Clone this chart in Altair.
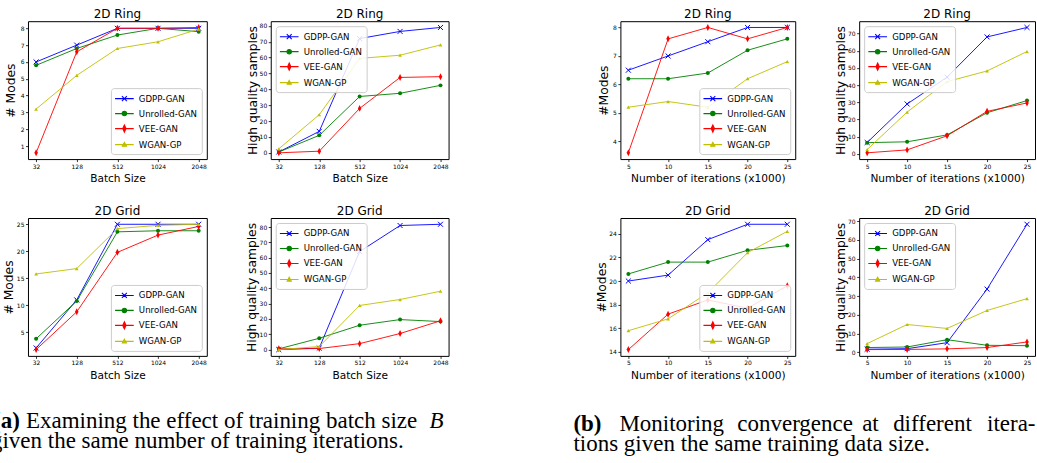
import altair as alt
import pandas as pd

SERIES = ["GDPP-GAN", "Unrolled-GAN", "VEE-GAN", "WGAN-GP"]
COLORS = ["#0000ff", "#008000", "#ff0000", "#bfbf00"]
BATCH_SIZES = ["32", "128", "512", "1024", "2048"]
ITERATIONS = [5, 10, 15, 20, 25]

# (a) batch size experiments
ring_modes_bs = {
    "GDPP-GAN": [6.0, 7.0, 8.0, 8.0, 8.0],
    "Unrolled-GAN": [5.8, 6.8, 7.6, 8.0, 7.8],
    "VEE-GAN": [0.6, 6.6, 8.0, 8.0, 8.05],
    "WGAN-GP": [3.2, 5.2, 6.8, 7.2, 7.95],
}
ring_hq_bs = {
    "GDPP-GAN": [0.5, 13.5, 72.0, 76.5, 79.0],
    "Unrolled-GAN": [0.5, 11.0, 35.5, 37.5, 42.5],
    "VEE-GAN": [0.0, 1.0, 28.0, 47.5, 48.0],
    "WGAN-GP": [2.5, 24.0, 59.5, 61.5, 68.0],
}
grid_modes_bs = {
    "GDPP-GAN": [2.1, 11.0, 25.0, 25.0, 25.0],
    "Unrolled-GAN": [3.8, 10.8, 23.6, 23.8, 23.8],
    "VEE-GAN": [1.8, 8.8, 19.8, 23.0, 24.6],
    "WGAN-GP": [15.8, 16.8, 24.2, 24.8, 25.0],
}
grid_hq_bs = {
    "GDPP-GAN": [0.0, 1.0, 64.0, 81.0, 81.8],
    "Unrolled-GAN": [0.5, 7.4, 15.9, 19.6, 18.3],
    "VEE-GAN": [0.5, 0.7, 3.9, 10.5, 18.8],
    "WGAN-GP": [0.0, 2.0, 28.8, 32.7, 38.1],
}
# (b) iteration experiments
ring_modes_it = {
    "GDPP-GAN": [6.5, 7.0, 7.5, 8.0, 8.0],
    "Unrolled-GAN": [6.2, 6.2, 6.4, 7.2, 7.6],
    "VEE-GAN": [3.6, 7.6, 8.0, 7.6, 8.0],
    "WGAN-GP": [5.2, 5.4, 5.2, 6.2, 6.8],
}
ring_hq_it = {
    "GDPP-GAN": [6.6, 29.0, 44.6, 68.0, 73.5],
    "Unrolled-GAN": [6.5, 7.0, 11.0, 23.9, 31.0],
    "VEE-GAN": [0.6, 2.3, 10.5, 24.7, 29.6],
    "WGAN-GP": [2.5, 24.3, 42.0, 48.2, 59.5],
}
grid_modes_it = {
    "GDPP-GAN": [20.0, 20.5, 23.5, 24.8, 24.8],
    "Unrolled-GAN": [20.6, 21.6, 21.6, 22.6, 23.0],
    "VEE-GAN": [14.2, 17.2, 18.4, 17.7, 19.6],
    "WGAN-GP": [15.8, 16.8, 19.0, 22.4, 24.2],
}
grid_hq_it = {
    "GDPP-GAN": [1.6, 1.9, 5.1, 33.7, 68.3],
    "Unrolled-GAN": [2.5, 2.8, 6.7, 3.7, 3.5],
    "VEE-GAN": [1.4, 1.5, 1.8, 2.5, 5.5],
    "WGAN-GP": [4.6, 14.8, 12.7, 22.3, 28.6],
}

TICKS_RING_MODES_BS = [1, 2, 3, 4, 5, 6, 7, 8]
TICKS_HQ_80 = [0, 10, 20, 30, 40, 50, 60, 70, 80]
TICKS_GRID_MODES_BS = [5, 10, 15, 20, 25]
TICKS_RING_MODES_IT = [4, 5, 6, 7, 8]
TICKS_HQ_70 = [0, 10, 20, 30, 40, 50, 60, 70]
TICKS_GRID_MODES_IT = [14, 16, 18, 20, 22, 24]

CAPTION_A = ["(a)", "Examining the effect of training batch size", "B",
             "given the same number of training iterations."]
CAPTION_B1 = ["(b)", "Monitoring", "convergence", "at", "different", "itera-"]
CAPTION_B2 = "tions given the same training data size."

FONT = "DejaVu Sans"
SERIF = "Liberation Serif"

# plot markers (paths in unit box)
MARKS = {
    "GDPP-GAN": dict(shape="M-1,-1L1,1M-1,1L1,-1", filled=False, strokeWidth=1, size=25),
    "Unrolled-GAN": dict(shape="circle", filled=True, size=16),
    "VEE-GAN": dict(shape="M0,-1L0.5,0L0,1L-0.5,0Z", filled=True, size=49),
    "WGAN-GP": dict(shape="triangle-up", filled=True, size=14),
}
LINE = "M-1.7,0L1.7,0"
LEGEND_PATHS = [
    LINE + "M-0.45,-0.45L0.45,0.45M-0.45,0.45L0.45,-0.45",
    LINE + "M0.4,0A0.4,0.4,0,1,1,-0.4,0A0.4,0.4,0,1,1,0.4,0Z",
    LINE + "M0,-0.65L0.3,0L0,0.65L-0.3,0Z",
    LINE + "M0,-0.4L0.38,0.3L-0.38,0.3Z",
]


def long_df(xs, data):
    rows = []
    for s in SERIES:
        for x, v in zip(xs, data[s]):
            rows.append({"x": x, "y": v, "series": s})
    return pd.DataFrame(rows)


def make_panel(kind, data, title, ytitle, yticks, orient, ytp, width):
    xs = BATCH_SIZES if kind == "bs" else ITERATIONS
    df = long_df(xs, data)
    vals = [v for s in SERIES for v in data[s]]
    lo, hi = min(vals), max(vals)
    m = 0.05 * (hi - lo)
    if kind == "bs":
        xenc = alt.X("x:O", sort=BATCH_SIZES,
                     scale=alt.Scale(type="point", padding=0.2),
                     axis=alt.Axis(title="Batch Size", labelAngle=0))
    else:
        xenc = alt.X("x:Q", scale=alt.Scale(domain=[4, 26], nice=False, zero=False),
                     axis=alt.Axis(title="Number of iterations (x1000)", values=ITERATIONS))
    yenc = alt.Y("y:Q", scale=alt.Scale(domain=[lo - m, hi + m], nice=False, zero=False),
                 axis=alt.Axis(title=ytitle, values=yticks, titlePadding=ytp))
    layers = []
    for s, c in zip(SERIES, COLORS):
        base = alt.Chart(df).transform_filter(alt.datum.series == s).encode(x=xenc, y=yenc)
        layers.append(base.mark_line(color=c, strokeWidth=1, opacity=0.9))
        layers.append(base.mark_point(color=c, opacity=1, **MARKS[s]))
    legend = alt.Legend(
        title=None, orient=orient, offset=5, padding=4,
        labelFont=FONT, labelFontSize=8.6, labelColor="black",
        symbolSize=121, symbolStrokeWidth=1.1, labelOffset=8, rowPadding=3,
        symbolOffset=3,
        strokeColor="#cccccc", fillColor="rgba(255,255,255,0.85)", cornerRadius=3,
    )
    leg_layer = alt.Chart(df).transform_filter("false").mark_point(filled=True, opacity=1).encode(
        x=xenc, y=yenc,
        color=alt.Color("series:N", scale=alt.Scale(domain=SERIES, range=COLORS), legend=legend),
        stroke=alt.Stroke("series:N", scale=alt.Scale(domain=SERIES, range=COLORS), legend=legend),
        shape=alt.Shape("series:N", scale=alt.Scale(domain=SERIES, range=LEGEND_PATHS), legend=legend),
    )
    layers.append(leg_layer)
    return alt.layer(*layers).properties(
        width=width, height=138,
        title=alt.TitleParams(title, font=FONT, fontSize=12, fontWeight="normal",
                              color="black", offset=-9, baseline="alphabetic"),
    )


W1, W2, W3, W4 = 179, 178, 175, 176

p1 = make_panel("bs", ring_modes_bs, "2D Ring", "# Modes", TICKS_RING_MODES_BS, "bottom-right", 2.5, W1)
p2 = make_panel("bs", ring_hq_bs, "2D Ring", "High quality samples", TICKS_HQ_80, "top-left", 0, W2)
p3 = make_panel("bs", grid_modes_bs, "2D Grid", "# Modes", TICKS_GRID_MODES_BS, "bottom-right", 0.5, W1)
p4 = make_panel("bs", grid_hq_bs, "2D Grid", "High quality samples", TICKS_HQ_80, "top-left", 0.5, W2)
p5 = make_panel("it", ring_modes_it, "2D Ring", "#Modes", TICKS_RING_MODES_IT, "bottom-right", 2.5, W3)
p6 = make_panel("it", ring_hq_it, "2D Ring", "High quality samples", TICKS_HQ_70, "top-left", 0, W4)
p7 = make_panel("it", grid_modes_it, "2D Grid", "#Modes", TICKS_GRID_MODES_IT, "bottom-right", 0, W3)
p8 = make_panel("it", grid_hq_it, "2D Grid", "High quality samples", TICKS_HQ_70, "top-left", 0, W4)

dummy = pd.DataFrame({"k": [0]})


def spacer():
    return alt.Chart(dummy).mark_point(opacity=0).encode(
        x=alt.value(0), y=alt.value(0)
    ).properties(width=44, height=138, view=alt.ViewBackground(stroke="transparent"))


def txt(s, x, y, weight="normal", style="normal"):
    return alt.Chart(dummy).mark_text(
        text=s, align="left", baseline="alphabetic", font=SERIF, fontSize=23,
        fontWeight=weight, fontStyle=style, color="black",
    ).encode(x=alt.value(x), y=alt.value(y))


OX, OY = 27, 415  # absolute origin of caption cell
cap_layers = [
    txt(CAPTION_A[0], -8 - OX, 428 - OY, weight="bold"),
    txt(CAPTION_A[1], 25 - OX, 428 - OY),
    txt(CAPTION_A[2], 429 - OX, 428 - OY, style="italic"),
    txt(CAPTION_A[3], -10 - OX, 448 - OY),
    txt(CAPTION_B2, 573 - OX, 451 - OY),
]
for word, xa in zip(CAPTION_B1, [573, 619, 737, 862, 893, 987]):
    cap_layers.append(txt(word, xa - OX, 431 - OY, weight="bold" if word == "(b)" else "normal"))
caption = alt.layer(*cap_layers).properties(
    width=W1, height=40, view=alt.ViewBackground(stroke="transparent"))

chart = alt.concat(
    p1, p2, spacer(), p5, p6,
    p3, p4, spacer(), p7, p8,
    caption,
    columns=5, spacing={"row": 59, "column": 64}, bounds="flush",
).resolve_scale(
    color="independent", stroke="independent", shape="independent"
).resolve_legend(
    color="independent", stroke="independent", shape="independent"
).properties(
    padding={"left": -10, "top": 7, "right": 0, "bottom": 0},
    background="white",
).configure_view(
    stroke="black", strokeWidth=1
).configure_axis(
    labelFont=FONT, labelFontSize=6, labelColor="black", labelPadding=1.5,
    tickColor="black", tickSize=2.5, tickWidth=0.8, domain=False, grid=False,
    titleFont=FONT, titleFontWeight="normal", titleColor="black",
).configure_axisX(
    titleFontSize=10.6, titlePadding=4.5,
).configure_axisY(
    titleFontSize=12.3,
)

chart.save("out.html", embed_options={"renderer": "svg", "actions": False})
